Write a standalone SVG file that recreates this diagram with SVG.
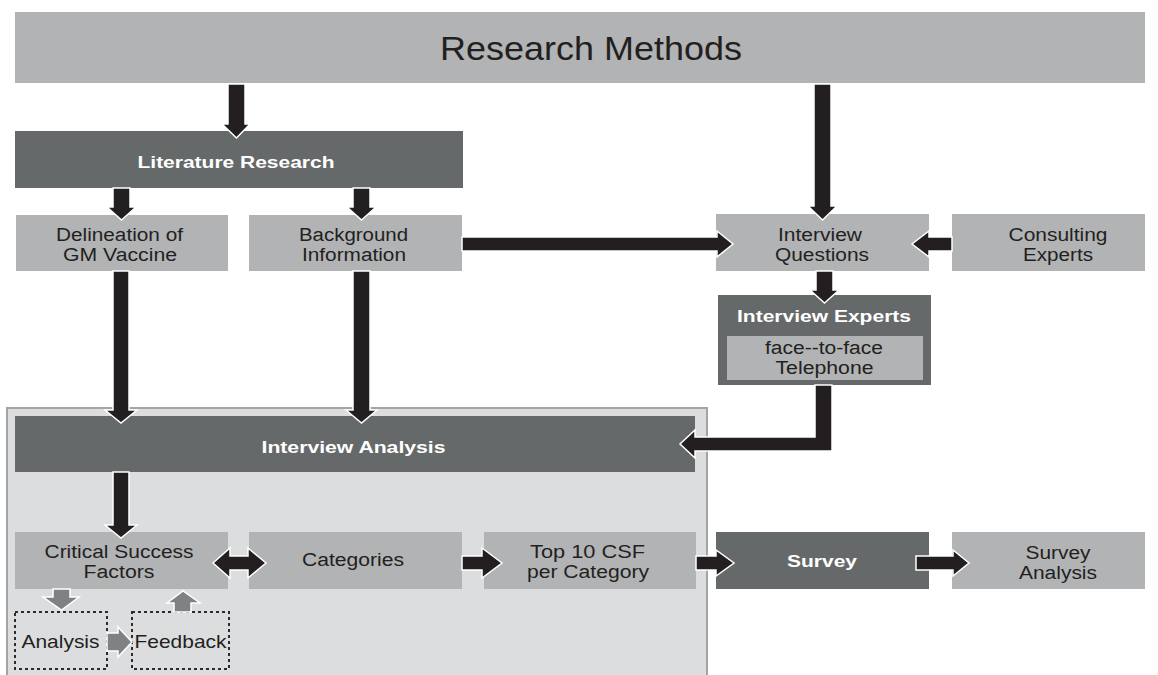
<svg xmlns="http://www.w3.org/2000/svg" width="1158" height="675" viewBox="0 0 1158 675">
<style>
.light{fill:#b2b3b5}
.dark{fill:#666969}
.cont{fill:#dcdddf;stroke:#a3a4a6;stroke-width:2}
.dot{fill:none;stroke:#2b2b2b;stroke-width:2;stroke-dasharray:3 3}
.arr{fill:#231f20;stroke:#ffffff;stroke-width:1.5;stroke-linejoin:miter}
.garr{fill:#808184;stroke:#ffffff;stroke-width:1.5}
text{font-family:"Liberation Sans",Arial,sans-serif;text-anchor:middle}
.t{font-size:18px;fill:#231f20}
.b{font-size:16.5px;font-weight:bold;fill:#ffffff}
</style>
<rect width="1158" height="675" fill="#ffffff"/>

<g id="container">
<rect class="cont" x="7" y="408" width="700" height="275"/>
</g>

<g id="research-methods">
<rect class="light" x="15" y="12" width="1130" height="71"/>
<text x="591" y="60" style="font-size:33px;fill:#231f20" textLength="302" lengthAdjust="spacingAndGlyphs">Research Methods</text>
</g>

<g id="literature-research">
<rect class="dark" x="15" y="131" width="448" height="57"/>
<text class="b" x="236" y="168" textLength="197" lengthAdjust="spacingAndGlyphs">Literature Research</text>
</g>

<g id="delineation">
<rect class="light" x="16" y="215" width="212" height="56"/>
<text class="t" x="119.5" y="241" textLength="127" lengthAdjust="spacingAndGlyphs">Delineation of</text>
<text class="t" x="120" y="261" textLength="114" lengthAdjust="spacingAndGlyphs">GM Vaccine</text>
</g>

<g id="background">
<rect class="light" x="249" y="215" width="213" height="56"/>
<text class="t" x="353.5" y="241" textLength="109" lengthAdjust="spacingAndGlyphs">Background</text>
<text class="t" x="354" y="261" textLength="104" lengthAdjust="spacingAndGlyphs">Information</text>
</g>

<g id="interview-questions">
<rect class="light" x="716" y="214" width="213" height="57"/>
<text class="t" x="820" y="241" textLength="84" lengthAdjust="spacingAndGlyphs">Interview</text>
<text class="t" x="822" y="261" textLength="94" lengthAdjust="spacingAndGlyphs">Questions</text>
</g>

<g id="consulting-experts">
<rect class="light" x="952" y="214" width="193" height="57"/>
<text class="t" x="1058" y="241" textLength="99" lengthAdjust="spacingAndGlyphs">Consulting</text>
<text class="t" x="1058" y="261" textLength="70" lengthAdjust="spacingAndGlyphs">Experts</text>
</g>

<g id="interview-experts">
<rect class="dark" x="718" y="295" width="213" height="90"/>
<text class="b" x="824" y="322" textLength="174" lengthAdjust="spacingAndGlyphs">Interview Experts</text>
<rect class="light" x="727" y="336" width="196" height="44"/>
<text class="t" x="824" y="354" textLength="118" lengthAdjust="spacingAndGlyphs">face--to-face</text>
<text class="t" x="824.5" y="374" textLength="98" lengthAdjust="spacingAndGlyphs">Telephone</text>
</g>

<g id="interview-analysis">
<rect class="dark" x="15" y="416" width="680" height="56"/>
<text class="b" x="353.5" y="453" textLength="184" lengthAdjust="spacingAndGlyphs">Interview Analysis</text>
</g>

<g id="critical-success-factors">
<rect class="light" x="15" y="532" width="213" height="57"/>
<text class="t" x="119" y="558" textLength="149" lengthAdjust="spacingAndGlyphs">Critical Success</text>
<text class="t" x="119" y="578" textLength="71" lengthAdjust="spacingAndGlyphs">Factors</text>
</g>

<g id="categories">
<rect class="light" x="249" y="532" width="213" height="57"/>
<text class="t" x="353" y="566" textLength="102" lengthAdjust="spacingAndGlyphs">Categories</text>
</g>

<g id="top10">
<rect class="light" x="484" y="532" width="212" height="57"/>
<text class="t" x="587.5" y="558" textLength="115" lengthAdjust="spacingAndGlyphs">Top 10 CSF</text>
<text class="t" x="588" y="578" textLength="122" lengthAdjust="spacingAndGlyphs">per Category</text>
</g>

<g id="survey">
<rect class="dark" x="716" y="532" width="213" height="57"/>
<text class="b" x="822" y="567" style="font-size:17px" textLength="70" lengthAdjust="spacingAndGlyphs">Survey</text>
</g>

<g id="survey-analysis">
<rect class="light" x="952" y="532" width="193" height="57"/>
<text class="t" x="1058" y="559" textLength="65" lengthAdjust="spacingAndGlyphs">Survey</text>
<text class="t" x="1058" y="579" textLength="78" lengthAdjust="spacingAndGlyphs">Analysis</text>
</g>

<g id="analysis">
<rect class="dot" x="15" y="612" width="92" height="57"/>
<text class="t" x="60.5" y="648" style="font-size:19px" textLength="78" lengthAdjust="spacingAndGlyphs">Analysis</text>
</g>

<g id="feedback">
<rect class="dot" x="132" y="612" width="97" height="57"/>
<text class="t" x="180.5" y="648" style="font-size:19px" textLength="92" lengthAdjust="spacingAndGlyphs">Feedback</text>
</g>

<g id="connectors">
<polygon class="arr" points="228,84 245,84 245,124 250,124 236.5,138 222,124 228,124"/>
<polygon class="arr" points="814,84 831,84 831,206 837,206 822.5,220 808,206 814,206"/>
<polygon class="arr" points="113,188 130,188 130,207 136,207 121.5,220 107,207 113,207"/>
<polygon class="arr" points="353,188 370,188 370,207 376,207 361.5,220 347,207 353,207"/>
<polygon class="arr" points="462,237 717,237 717,231 733,244 717,257 717,251 462,251"/>
<polygon class="arr" points="952,237 929,237 929,231 912,244 929,257 929,251 952,251"/>
<polygon class="arr" points="816,271 833,271 833,290 839,290 824.5,303 810,290 816,290"/>
<polygon class="arr" points="815,385 832,385 832,451 695,451 695,458 680,444 695,430 695,437 815,437"/>
<polygon class="arr" points="113,271 129,271 129,410 137,410 121,423 105,410 113,410"/>
<polygon class="arr" points="353,271 370,271 370,410 377,410 361.5,423 346,410 353,410"/>
<polygon class="arr" points="113,472 129,472 129,525 137,525 121,538 105,525 113,525"/>
<polygon class="arr" points="213,563 230,548 230,556 248,556 248,548 266,563 248,578 248,570 230,570 230,578"/>
<polygon class="arr" points="462,556 482,556 482,548 502,563 482,578 482,570 462,570"/>
<polygon class="arr" points="696,556 716,556 716,550 734,563 716,576 716,570 696,570"/>
<polygon class="arr" points="916,556 953,556 953,550 969,563 953,576 953,570 916,570"/>
<polygon class="garr" points="53,589 70,589 70,597 79,597 61.5,610 43,597 53,597"/>
<polygon class="garr" points="174,612 191,612 191,603 200,603 183,591 167,603 174,603"/>
<polygon class="garr" points="107,633 118,633 118,627 132,642 118,657 118,651 107,651"/>
</g>
</svg>
